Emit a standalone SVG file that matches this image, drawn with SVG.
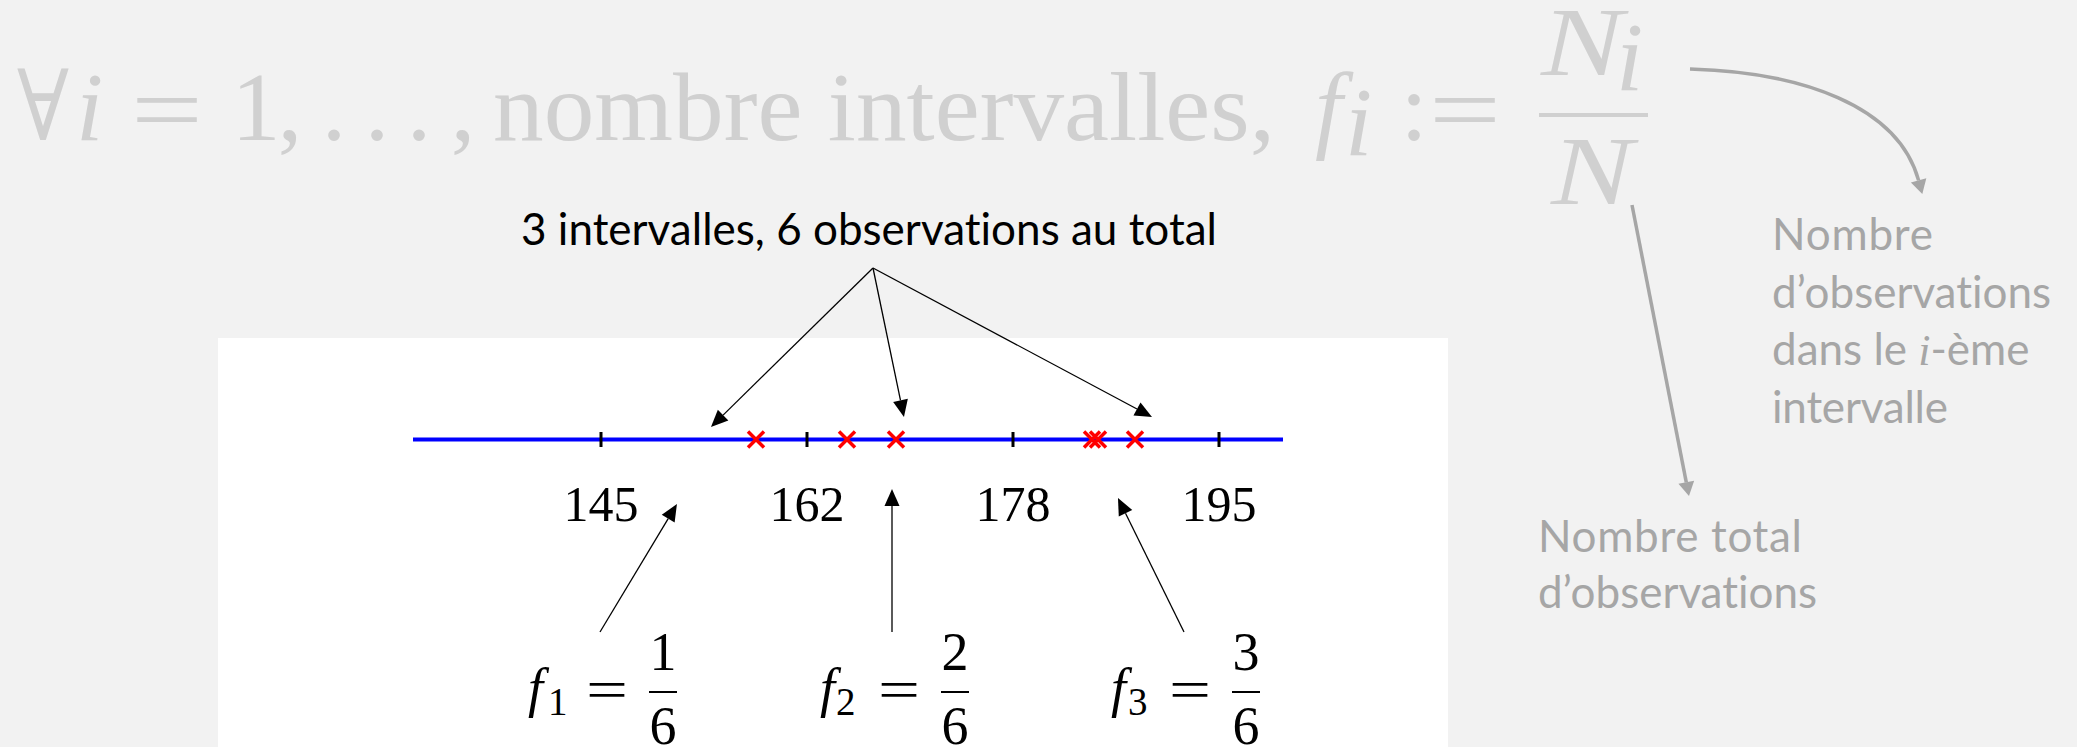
<svg xmlns="http://www.w3.org/2000/svg" width="2077" height="747" viewBox="0 0 2077 747">
<style>
.fm{font-family:"Liberation Serif","Times New Roman",serif;fill:#d0d0d0;font-size:98px}
.it{font-style:italic}
.gs{font-family:Lato,"Open Sans",sans-serif;font-size:44px;fill:#a6a6a6;font-variant-ligatures:none}
.tt{font-family:Lato,"Open Sans",sans-serif;font-size:44px;fill:#000;font-variant-ligatures:none}
.num{font-family:"Liberation Serif","Times New Roman",serif;font-size:50px;fill:#000;text-anchor:middle}
.fr{font-family:"Liberation Serif","Times New Roman",serif;font-size:54px;fill:#000}
.frs{font-family:"Liberation Serif","Times New Roman",serif;font-size:39px;fill:#000}
.blk{stroke:#000;stroke-width:1.3;fill:none}
.gry{stroke:#a6a6a6;stroke-width:3.5;fill:none}
.tick{stroke:#000;stroke-width:3}
.obs{stroke:#ff0000;stroke-width:3.5;fill:none}
</style>
<defs>
<marker id="ab" markerUnits="userSpaceOnUse" markerWidth="20" markerHeight="20" refX="0" refY="7.5" orient="auto" overflow="visible"><path d="M0,0 L17,7.5 L0,15 Z" fill="#000"/></marker>
<marker id="ag" markerUnits="userSpaceOnUse" markerWidth="20" markerHeight="20" refX="0" refY="8" orient="auto" overflow="visible"><path d="M0,0 L14,8 L0,16 Z" fill="#a6a6a6"/></marker>
</defs>
<rect x="0" y="0" width="2077" height="747" fill="#f2f2f2"/>
<rect x="218" y="338" width="1230" height="409" fill="#ffffff"/>

<g id="formula">
<text class="fm" x="17" y="140" style="font-family:'DejaVu Serif',serif" font-size="92" textLength="52" lengthAdjust="spacingAndGlyphs">∀</text>
<text class="fm it" x="76" y="140">i</text>
<text class="fm" x="131" y="142" textLength="72" lengthAdjust="spacingAndGlyphs">=</text>
<text class="fm" x="256" y="140" text-anchor="middle">1</text>
<text class="fm" x="290" y="140" text-anchor="middle">,</text>
<text class="fm" x="334" y="140" text-anchor="middle">.</text>
<text class="fm" x="377" y="140" text-anchor="middle">.</text>
<text class="fm" x="419" y="140" text-anchor="middle">.</text>
<text class="fm" x="463" y="140" text-anchor="middle">,</text>
<text class="fm" x="493" y="140" textLength="782" lengthAdjust="spacingAndGlyphs">nombre intervalles,</text>
<text class="fm it" x="1315" y="140">f</text>
<text class="fm it" x="1345" y="155" font-size="72">i</text>
<text class="fm" x="1414" y="140" text-anchor="middle">:</text>
<text class="fm" x="1429" y="142" textLength="72" lengthAdjust="spacingAndGlyphs">=</text>
<text class="fm it" x="1541" y="75" textLength="82" lengthAdjust="spacingAndGlyphs">N</text>
<text class="fm it" x="1616" y="90" font-size="72">i</text>
<rect x="1539" y="113" width="109" height="4" fill="#d0d0d0"/>
<text class="fm it" x="1551" y="204" textLength="82" lengthAdjust="spacingAndGlyphs">N</text>
</g>

<g id="label-ni">
<text class="gs" x="1772" y="250" textLength="161" lengthAdjust="spacing">Nombre</text>
<text class="gs" x="1772" y="308" textLength="279" lengthAdjust="spacing">d’observations</text>
<text class="gs" x="1772" y="365">dans le <tspan style="font-family:'Liberation Serif',serif;font-style:italic">i</tspan>-ème</text>
<text class="gs" x="1772" y="423" textLength="176" lengthAdjust="spacing">intervalle</text>
</g>

<g id="label-n">
<text class="gs" x="1538" y="552" textLength="264" lengthAdjust="spacing">Nombre total</text>
<text class="gs" x="1538" y="608" textLength="279" lengthAdjust="spacing">d’observations</text>
</g>

<g id="title">
<text class="tt" x="521" y="245" textLength="696" lengthAdjust="spacing">3 intervalles, 6 observations au total</text>
</g>

<g id="number-line">
<line x1="413" y1="439.5" x2="1283" y2="439.5" stroke="#0000ff" stroke-width="4"/>
<line class="tick" x1="601" y1="432" x2="601" y2="447"/>
<line class="tick" x1="807" y1="432" x2="807" y2="447"/>
<line class="tick" x1="1013" y1="432" x2="1013" y2="447"/>
<line class="tick" x1="1219" y1="432" x2="1219" y2="447"/>
<path class="obs" d="M748,431.5 l16,16 M748,447.5 l16,-16"/>
<path class="obs" d="M839,431.5 l16,16 M839,447.5 l16,-16"/>
<path class="obs" d="M888,431.5 l16,16 M888,447.5 l16,-16"/>
<path class="obs" d="M1084,431.5 l16,16 M1084,447.5 l16,-16"/>
<path class="obs" d="M1090,431.5 l16,16 M1090,447.5 l16,-16"/>
<path class="obs" d="M1127,431.5 l16,16 M1127,447.5 l16,-16"/>
<text class="num" x="601" y="521">145</text>
<text class="num" x="807" y="521">162</text>
<text class="num" x="1013" y="521">178</text>
<text class="num" x="1219" y="521">195</text>
</g>

<g id="f1">
<text class="fr it" x="528" y="706">f</text>
<text class="frs" x="548" y="715">1</text>
<text class="fr" x="586" y="708" textLength="42" lengthAdjust="spacingAndGlyphs">=</text>
<text class="fr" x="663" y="670" text-anchor="middle">1</text>
<rect x="649" y="691" width="28" height="2" fill="#000"/>
<text class="fr" x="663" y="744" text-anchor="middle">6</text>
</g>
<g id="f2">
<text class="fr it" x="820" y="706">f</text>
<text class="frs" x="836" y="715">2</text>
<text class="fr" x="878" y="708" textLength="42" lengthAdjust="spacingAndGlyphs">=</text>
<text class="fr" x="955" y="670" text-anchor="middle">2</text>
<rect x="941" y="691" width="28" height="2" fill="#000"/>
<text class="fr" x="955" y="744" text-anchor="middle">6</text>
</g>
<g id="f3">
<text class="fr it" x="1111" y="706">f</text>
<text class="frs" x="1128" y="715">3</text>
<text class="fr" x="1169" y="708" textLength="42" lengthAdjust="spacingAndGlyphs">=</text>
<text class="fr" x="1246" y="670" text-anchor="middle">3</text>
<rect x="1232" y="691" width="28" height="2" fill="#000"/>
<text class="fr" x="1246" y="744" text-anchor="middle">6</text>
</g>

<g id="connectors">
<line class="blk" x1="873" y1="268" x2="723.1" y2="415.1" marker-end="url(#ab)"/>
<line class="blk" x1="873" y1="268" x2="900.5" y2="400.4" marker-end="url(#ab)"/>
<line class="blk" x1="873" y1="268" x2="1137" y2="409" marker-end="url(#ab)"/>
<line class="blk" x1="600" y1="632" x2="668.2" y2="518.6" marker-end="url(#ab)"/>
<line class="blk" x1="892" y1="632" x2="892" y2="506" marker-end="url(#ab)"/>
<line class="blk" x1="1184" y1="632" x2="1125.5" y2="513.2" marker-end="url(#ab)"/>
<line class="gry" x1="1632" y1="205" x2="1686.3" y2="482.3" marker-end="url(#ag)"/>
<path class="gry" d="M1690,69 C1800,72 1898,105 1918.6,180.4" marker-end="url(#ag)"/>
</g>
</svg>
